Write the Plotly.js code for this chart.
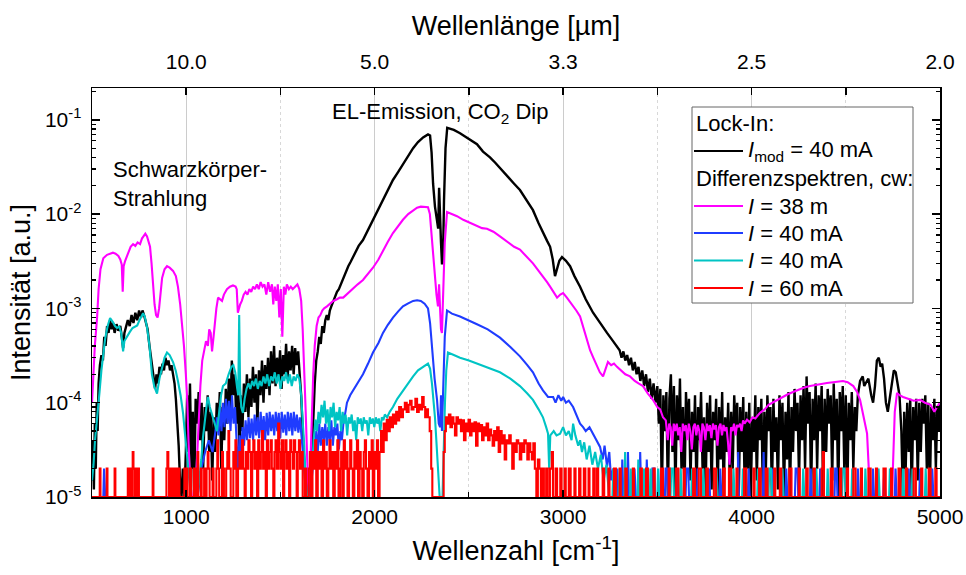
<!DOCTYPE html>
<html>
<head>
<meta charset="utf-8">
<script src="https://cdn.plot.ly/plotly-3.0.1.min.js"></script>
<style>html,body{margin:0;padding:0;background:#fff;}#chart{width:966px;height:575px;}</style>
</head>
<body>
<div id="chart"></div>
<script>
// Wavenumber [cm^-1], intensity [a.u.] pairs
const lockIn40 = [
[500,1.5e-5],[505,4e-5],[510,1.2e-5],[515,6e-5],[520,2e-5],[525,1e-4],[530,5e-5],[535,1.6e-4],[542,2.5e-4],[550,3.2e-4],[558,2.8e-4],[565,5e-4],[572,4e-4],[580,6.5e-4],[588,5.5e-4],[596,7.5e-4],[604,6e-4],[612,7e-4],[620,5.5e-4],[630,6.8e-4],[640,5.8e-4],[650,6.5e-4],[658,5e-4],[665,3.8e-4],[672,5.5e-4],[680,6.2e-4],[690,7.5e-4],[700,6.5e-4],[710,8.5e-4],[720,7e-4],[730,9e-4],[740,7.5e-4],[750,9.5e-4],[760,8e-4],[768,9.5e-4],[776,8.5e-4],[785,7e-4],[795,6e-4],[805,4e-4],[812,3e-4],[820,2.2e-4],[828,1.8e-4],[835,1.4e-4],[842,2e-4],[850,1.6e-4],[858,2.4e-4],[866,2e-4],[874,2.6e-4],[882,2.2e-4],[890,3e-4],[898,2.5e-4],[906,2.8e-4],[914,2.2e-4],[922,2.5e-4],[930,2e-4],[938,1.6e-4],[945,1.1e-4],[952,7e-5],[960,3.5e-5],[967,1.5e-5],[975,1e-5],[982,2e-5],[990,1e-5],[998,3e-5],[1005,1.2e-4],[1012,3e-5],[1020,1.6e-4],[1028,2e-5],[1035,8e-5],[1042,1e-5],[1050,1.1e-4],[1058,6e-5],[1066,1.3e-4],[1074,4e-5],[1082,1e-4],[1090,2e-5],[1098,9e-5],[1106,5e-5],[1114,1.2e-4],[1122,3e-5],[1130,8e-5],[1138,1.5e-5],[1146,7e-5],[1154,3e-5],[1162,1e-4],[1170,5e-5],[1178,1.3e-4],[1186,2e-5],[1194,9e-5],[1202,4e-5],[1210,1.4e-4],[1218,6e-5],[1226,1.8e-4],[1234,8e-5],[1242,2.8e-4],[1250,1.2e-4],[1258,2e-4],[1266,6e-5],[1274,1.5e-4],[1282,3e-5],[1290,1.2e-4],[1298,5e-5],[1306,1.6e-4],[1314,8e-5],[1322,2e-4],[1330,7e-5],[1338,1.8e-4],[1346,9e-5],[1354,2.4e-4],[1362,1e-4],[1370,2e-4],[1378,6e-5],[1386,2.2e-4],[1394,1.2e-4],[1402,2.8e-4],[1410,1e-4],[1418,2.5e-4],[1426,1.4e-4],[1434,3e-4],[1442,1.2e-4],[1450,3.5e-4],[1458,1.6e-4],[1466,4e-4],[1474,1.5e-4],[1482,3e-4],[1490,1.8e-4],[1498,3.6e-4],[1506,1.4e-4],[1514,3.2e-4],[1522,2e-4],[1530,4.2e-4],[1538,1.8e-4],[1546,3.5e-4],[1554,2.2e-4],[1562,4e-4],[1570,2e-4],[1578,3.8e-4],[1586,2.5e-4],[1594,3.5e-4],[1602,2e-4],[1610,1.2e-4],[1618,5e-5],[1626,2.5e-5],[1634,1.2e-5],[1642,1e-5],[1650,1.5e-5],[1658,1e-5],[1666,3e-5],[1674,8e-5],[1682,1.6e-4],[1690,2.8e-4],[1698,3.5e-4],[1706,5e-4],[1714,4.2e-4],[1722,6.5e-4],[1730,5.5e-4],[1738,7.5e-4],[1746,8.5e-4],[1754,7.5e-4],[1762,9.5e-4],[1770,1.05e-3],[1780,1.2e-3],[1790,1.3e-3],[1800,1.5e-3],[1810,1.6e-3],[1820,1.8e-3],[1833,2e-3],[1845,2.4e-3],[1860,2.8e-3],[1872,3.1e-3],[1885,3.5e-3],[1900,4e-3],[1915,4.6e-3],[1938,5.3e-3],[1960,6.5e-3],[1991,8.7e-3],[2020,1.1e-2],[2044,1.4e-2],[2070,1.8e-2],[2097,2.3e-2],[2125,2.8e-2],[2150,3.4e-2],[2178,4.2e-2],[2204,5e-2],[2230,5.8e-2],[2257,6.5e-2],[2283,7e-2],[2294,6.8e-2],[2302,4.5e-2],[2310,2.1e-2],[2320,1.2e-2],[2331,8.7e-3],[2337,7e-3],[2342,1.9e-2],[2347,8e-3],[2352,5e-3],[2357,3e-3],[2362,3e-3],[2368,1.4e-2],[2376,5e-2],[2385,8.2e-2],[2400,8e-2],[2420,7.8e-2],[2453,7.2e-2],[2480,6.6e-2],[2510,6e-2],[2543,5.5e-2],[2575,4.6e-2],[2612,4e-2],[2640,3.5e-2],[2665,3.1e-2],[2700,2.6e-2],[2740,2.1e-2],[2771,1.8e-2],[2805,1.4e-2],[2840,1.1e-2],[2870,8e-3],[2893,6.3e-3],[2915,5.2e-3],[2931,4.5e-3],[2945,3.3e-3],[2957,2.2e-3],[2968,2.6e-3],[2980,3.2e-3],[2994,3.5e-3],[3015,3.2e-3],[3037,2.8e-3],[3060,2.2e-3],[3090,1.7e-3],[3120,1.25e-3],[3159,9e-4],[3195,7e-4],[3233,5.5e-4],[3265,4.5e-4],[3290,3.9e-4],[3300,3.6e-4],[3310,3e-4],[3320,3.5e-4],[3330,2.8e-4],[3340,3.2e-4],[3350,2.5e-4],[3360,3e-4],[3370,2.2e-4],[3380,2.7e-4],[3390,2e-4],[3400,2.4e-4],[3410,1.7e-4],[3420,2.2e-4],[3430,1.5e-4],[3440,2e-4],[3450,1.3e-4],[3460,1.8e-4],[3470,1.1e-4],[3480,1.6e-4],[3490,1e-4],[3500,1.5e-4],[3508,6e-5],[3516,1.4e-4],[3524,1e-5],[3532,1.2e-4],[3540,5e-5],[3548,1.3e-4],[3556,1e-5],[3564,1.1e-4],[3572,2e-4],[3580,3e-5],[3588,1.5e-4],[3596,1e-5],[3604,1.2e-4],[3612,4e-5],[3620,1.8e-4],[3628,2e-5],[3636,9e-5],[3644,1e-5],[3652,1.3e-4],[3660,5e-5],[3668,1.1e-4],[3676,1.5e-5],[3684,8e-5],[3692,3e-5],[3700,1.2e-4],[3708,1e-5],[3716,9e-5],[3724,4e-5],[3732,1.3e-4],[3740,2e-5],[3748,7e-5],[3756,1e-5],[3764,1e-4],[3772,3e-5],[3780,1.2e-4],[3788,1.2e-5],[3796,8e-5],[3804,4e-5],[3812,1.1e-4],[3820,1e-5],[3828,9e-5],[3836,2.5e-5],[3844,1.3e-4],[3852,1e-5],[3860,7e-5],[3868,3e-5],[3876,1e-4],[3884,1.5e-5],[3892,8e-5],[3900,2e-5],[3908,1.2e-4],[3916,5e-5],[3924,1e-4],[3932,1e-5],[3940,9e-5],[3948,3e-5],[3956,1.15e-4],[3964,1e-5],[3972,8e-5],[3980,2e-5],[3988,1e-4],[3996,1e-5],[4004,7e-5],[4012,3e-5],[4020,1.2e-4],[4028,1.5e-5],[4036,9e-5],[4044,4e-5],[4052,1.1e-4],[4060,1e-5],[4068,8e-5],[4076,2e-5],[4084,1.2e-4],[4092,5e-5],[4100,9e-5],[4108,1e-5],[4116,1.1e-4],[4124,3e-5],[4132,7e-5],[4140,1.2e-5],[4148,1.2e-4],[4156,4e-5],[4164,1e-4],[4172,1e-5],[4180,8e-5],[4188,2.5e-5],[4196,1.3e-4],[4204,1e-5],[4212,9e-5],[4220,3e-5],[4228,1.4e-4],[4236,5e-5],[4244,1e-4],[4252,1.5e-5],[4260,1.2e-4],[4268,4e-5],[4276,1.5e-4],[4284,2e-5],[4292,1.9e-4],[4300,6e-5],[4308,1.3e-4],[4316,1e-5],[4324,1.1e-4],[4332,4e-5],[4340,1.6e-4],[4348,2e-5],[4356,1.2e-4],[4364,5e-5],[4372,1.5e-4],[4380,1e-5],[4388,1.1e-4],[4396,3e-5],[4404,1.4e-4],[4412,6e-5],[4420,1.2e-4],[4428,1.5e-5],[4436,1.6e-4],[4444,4e-5],[4452,1.1e-4],[4460,1e-5],[4468,1.3e-4],[4476,5e-5],[4484,1.5e-4],[4492,2e-5],[4500,1.2e-4],[4508,1e-5],[4516,1e-4],[4524,4e-5],[4532,1.3e-4],[4540,2e-5],[4548,9e-5],[4556,5e-5],[4564,1.2e-4],[4576,1.7e-4],[4590,1.9e-4],[4598,1.5e-4],[4605,1.6e-4],[4620,1.8e-4],[4635,1.2e-4],[4645,1e-4],[4655,1.5e-4],[4665,2.8e-4],[4675,3e-4],[4685,2.4e-4],[4693,2.6e-4],[4703,1.8e-4],[4713,1e-4],[4723,8e-5],[4733,1.1e-4],[4745,1.6e-4],[4755,2.2e-4],[4765,2.1e-4],[4775,1.5e-4],[4785,1.2e-4],[4795,5e-5],[4803,1e-5],[4810,8e-5],[4818,2e-5],[4826,1e-4],[4834,3e-5],[4842,1.1e-4],[4850,1e-5],[4858,9e-5],[4866,4e-5],[4874,1.1e-4],[4882,1.5e-5],[4890,1e-4],[4898,3e-5],[4906,1.1e-4],[4914,6e-5],[4922,1.2e-4],[4930,2e-5],[4938,1e-4],[4946,1e-5],[4954,9e-5],[4962,4e-5],[4970,1.1e-4],[4978,2e-5],[4986,9e-5],[4994,5e-5],[5000,1e-4]
];

const diffCw38 = [
[500,1e-4],[505,1.6e-4],[515,4e-4],[527,8e-4],[535,1.6e-3],[545,2.6e-3],[560,3.4e-3],[580,3.7e-3],[596,3.8e-3],[611,3.9e-3],[625,3.8e-3],[640,3.6e-3],[650,3.3e-3],[658,2.9e-3],[663,1.5e-3],[668,2.8e-3],[676,3.2e-3],[690,3.8e-3],[705,4.5e-3],[718,4.8e-3],[730,4.6e-3],[742,5e-3],[755,4.8e-3],[765,5.5e-3],[775,6e-3],[783,6.2e-3],[792,5.8e-3],[800,5.2e-3],[808,4.5e-3],[816,3e-3],[824,1.6e-3],[832,1.1e-3],[840,8.5e-4],[848,8e-4],[856,1e-3],[864,1.6e-3],[872,2.1e-3],[885,2.6e-3],[898,2.8e-3],[912,2.7e-3],[930,2.5e-3],[945,2.2e-3],[956,1.7e-3],[968,1.1e-3],[978,7e-4],[988,4e-4],[998,2e-4],[1006,1e-4],[1012,4e-5],[1020,1.5e-5],[1030,1e-5],[1045,1e-5],[1055,2e-5],[1062,4e-5],[1068,8e-5],[1075,1.5e-4],[1085,2.8e-4],[1095,3.5e-4],[1105,4.5e-4],[1115,4e-4],[1122,6e-4],[1130,5.5e-4],[1137,3.5e-4],[1145,5e-4],[1153,7.5e-4],[1160,1e-3],[1169,1.3e-3],[1180,1.25e-3],[1190,1.2e-3],[1200,1.4e-3],[1216,1.6e-3],[1232,1.7e-3],[1248,1.75e-3],[1262,1.7e-3],[1268,1.6e-3],[1274,9e-4],[1280,1e-3],[1286,1.1e-3],[1295,1.2e-3],[1305,1.4e-3],[1315,1.5e-3],[1325,1.4e-3],[1335,1.6e-3],[1345,1.5e-3],[1355,1.7e-3],[1365,1.6e-3],[1375,1.8e-3],[1385,1.6e-3],[1395,1.9e-3],[1405,1.7e-3],[1415,1.8e-3],[1425,1.4e-3],[1435,1.9e-3],[1445,1.5e-3],[1455,1.8e-3],[1462,1.1e-3],[1470,1.7e-3],[1478,1.2e-3],[1486,1.8e-3],[1494,8e-4],[1502,1.6e-3],[1510,5e-4],[1518,1.7e-3],[1526,1.4e-3],[1534,1.8e-3],[1545,1.6e-3],[1555,1.7e-3],[1565,1.6e-3],[1578,1.7e-3],[1590,1.8e-3],[1600,1.6e-3],[1610,1.2e-3],[1618,6e-4],[1626,2.5e-4],[1634,8e-5],[1642,2.5e-5],[1650,1e-5],[1658,2e-5],[1666,8e-5],[1674,2e-4],[1682,4e-4],[1692,6.5e-4],[1702,8e-4],[1712,8.5e-4],[1722,9.5e-4],[1732,1e-3],[1747,1.05e-3],[1760,1.1e-3],[1780,1.2e-3],[1800,1.25e-3],[1815,1.3e-3],[1833,1.3e-3],[1850,1.4e-3],[1870,1.5e-3],[1885,1.6e-3],[1910,1.8e-3],[1938,2e-3],[1965,2.3e-3],[1991,2.7e-3],[2020,3.3e-3],[2044,4.1e-3],[2070,5.1e-3],[2097,6.3e-3],[2125,7.5e-3],[2150,8.7e-3],[2178,1e-2],[2204,1.1e-2],[2225,1.17e-2],[2245,1.2e-2],[2265,1.18e-2],[2283,1.18e-2],[2293,1e-2],[2304,5.3e-3],[2312,3e-3],[2320,1.9e-3],[2328,1.4e-3],[2336,1.05e-3],[2342,1.8e-3],[2347,1e-3],[2352,6e-4],[2357,5.5e-4],[2364,1.5e-3],[2372,5e-3],[2384,1.05e-2],[2400,1.02e-2],[2437,9.5e-3],[2470,8.7e-3],[2510,8e-3],[2543,7.5e-3],[2570,7.1e-3],[2596,7e-3],[2630,6.5e-3],[2665,5.8e-3],[2700,5.2e-3],[2740,4.5e-3],[2771,4.2e-3],[2805,3.6e-3],[2840,3e-3],[2870,2.5e-3],[2893,2.2e-3],[2915,1.9e-3],[2931,1.7e-3],[2950,1.5e-3],[2968,1.3e-3],[2985,1.4e-3],[3000,1.45e-3],[3020,1.3e-3],[3040,1.15e-3],[3053,1.05e-3],[3070,9.5e-4],[3090,8.2e-4],[3105,6.5e-4],[3120,5e-4],[3143,3.6e-4],[3160,3e-4],[3180,2.4e-4],[3195,2.1e-4],[3212,1.9e-4],[3225,2.3e-4],[3238,2.7e-4],[3255,2.5e-4],[3270,2.6e-4],[3286,2.4e-4],[3310,2.2e-4],[3330,2e-4],[3355,1.9e-4],[3380,1.7e-4],[3400,1.6e-4],[3424,1.5e-4],[3450,1.25e-4],[3477,1.07e-4],[3500,9e-5],[3515,8.5e-5],[3530,7e-5],[3545,6.5e-5],[3555,4e-5],[3563,6e-5],[3571,5.5e-5],[3579,3.5e-5],[3587,6e-5],[3595,5e-5],[3603,6e-5],[3611,4.5e-5],[3619,5.5e-5],[3627,3e-5],[3635,6e-5],[3643,5e-5],[3651,5.8e-5],[3659,4e-5],[3667,6e-5],[3675,5e-5],[3683,3.2e-5],[3691,5.5e-5],[3699,6e-5],[3707,4.5e-5],[3715,5.8e-5],[3723,5e-5],[3731,3e-5],[3739,6e-5],[3747,5.5e-5],[3755,4e-5],[3763,6e-5],[3771,5e-5],[3779,5.8e-5],[3787,4.2e-5],[3795,6e-5],[3803,5.2e-5],[3811,5.8e-5],[3819,3.5e-5],[3827,5.5e-5],[3835,6e-5],[3843,4.5e-5],[3851,5.8e-5],[3859,5e-5],[3867,5.5e-5],[3875,3.8e-5],[3883,2.2e-5],[3891,5.5e-5],[3899,5e-5],[3907,6e-5],[3915,4.5e-5],[3923,5.8e-5],[3931,5.5e-5],[3939,6e-5],[3947,5e-5],[3955,6.5e-5],[3963,6e-5],[3976,6.6e-5],[3990,6.2e-5],[4005,7e-5],[4020,6.8e-5],[4045,7.8e-5],[4070,8.5e-5],[4090,9.5e-5],[4110,1e-4],[4135,1.07e-4],[4160,1.15e-4],[4190,1.22e-4],[4220,1.3e-4],[4250,1.38e-4],[4280,1.45e-4],[4310,1.5e-4],[4340,1.55e-4],[4370,1.58e-4],[4400,1.62e-4],[4430,1.65e-4],[4460,1.68e-4],[4485,1.7e-4],[4510,1.65e-4],[4540,1.5e-4],[4560,1.3e-4],[4576,1.07e-4],[4595,7e-5],[4613,4.7e-5],[4622,2e-5],[4630,1e-5],[4660,1e-5],[4664,2e-5],[4670,1e-5],[4700,1e-5],[4704,2e-5],[4710,1e-5],[4745,1e-5],[4752,3e-5],[4760,8e-5],[4772,1.27e-4],[4785,1.2e-4],[4804,1.15e-4],[4830,1.1e-4],[4860,1.05e-4],[4894,1.07e-4],[4920,1e-4],[4950,9.5e-5],[4970,8e-5],[4984,9e-5],[5000,1e-4]
];

const diffCw40a = [
[500,1e-5],[560,1e-5],[564,2e-5],[570,1e-5],[700,1e-5],[704,2e-5],[710,1e-5],[1060,1e-5],[1080,2e-5],[1100,3e-5],[1120,4e-5],[1140,3e-5],[1155,5e-5],[1163,7e-5],[1171,4.5e-5],[1179,9e-5],[1187,5e-5],[1195,1e-4],[1203,5.5e-5],[1211,1.1e-4],[1219,6e-5],[1227,1.05e-4],[1235,5e-5],[1243,1.2e-4],[1251,6e-5],[1259,9e-5],[1267,4e-5],[1275,2e-5],[1283,4.5e-5],[1291,3e-5],[1299,5.5e-5],[1307,3.5e-5],[1315,6.5e-5],[1323,4e-5],[1331,7e-5],[1339,4.2e-5],[1347,6.8e-5],[1355,4e-5],[1363,7.5e-5],[1371,4.5e-5],[1379,7e-5],[1387,4.2e-5],[1395,8e-5],[1403,4.5e-5],[1411,7.2e-5],[1419,4e-5],[1427,7.8e-5],[1435,4.5e-5],[1443,8e-5],[1451,5e-5],[1459,7.5e-5],[1467,4.5e-5],[1475,8e-5],[1483,5e-5],[1491,7.8e-5],[1499,4.2e-5],[1507,8e-5],[1515,4.8e-5],[1523,7.5e-5],[1531,4.5e-5],[1539,8e-5],[1547,5e-5],[1555,7.8e-5],[1563,4.5e-5],[1571,8e-5],[1579,5e-5],[1587,7.5e-5],[1595,4.8e-5],[1603,7e-5],[1611,4e-5],[1619,3e-5],[1627,2e-5],[1635,1e-5],[1650,1e-5],[1665,1.5e-5],[1680,3e-5],[1690,5e-5],[1698,3e-5],[1706,6e-5],[1714,3.5e-5],[1722,5.5e-5],[1730,4e-5],[1738,6e-5],[1746,3.5e-5],[1754,5.5e-5],[1762,4e-5],[1770,6.5e-5],[1778,3.5e-5],[1786,5.5e-5],[1794,4.5e-5],[1802,6e-5],[1810,3.2e-5],[1818,5e-5],[1826,4e-5],[1834,6e-5],[1845,8e-5],[1853,1e-4],[1870,1.2e-4],[1885,1.35e-4],[1910,1.65e-4],[1938,2e-4],[1965,2.6e-4],[1991,3.4e-4],[2020,4.3e-4],[2044,5.5e-4],[2070,6.7e-4],[2097,8e-4],[2125,9.3e-4],[2150,1.05e-3],[2178,1.13e-3],[2204,1.2e-3],[2225,1.22e-3],[2245,1.2e-3],[2265,1.12e-3],[2283,1e-3],[2294,7e-4],[2304,3.6e-4],[2318,1.8e-4],[2331,1.07e-4],[2340,6e-5],[2347,5.5e-5],[2352,1.2e-4],[2357,5e-5],[2364,2e-4],[2372,5e-4],[2384,9.5e-4],[2410,8.8e-4],[2453,8.2e-4],[2500,7.5e-4],[2543,6.8e-4],[2600,6e-4],[2665,4.9e-4],[2720,3.9e-4],[2771,3.1e-4],[2810,2.5e-4],[2840,2.1e-4],[2870,1.6e-4],[2893,1.35e-4],[2920,1.15e-4],[2947,1.15e-4],[2960,1e-4],[2975,1.2e-4],[2990,1.05e-4],[3000,1.15e-4],[3015,1e-4],[3030,1.05e-4],[3053,9e-5],[3070,7.5e-5],[3090,6e-5],[3106,5.5e-5],[3120,5e-5],[3140,5.5e-5],[3159,4.7e-5],[3175,4e-5],[3196,3.4e-5],[3210,2.5e-5],[3220,3.5e-5],[3233,2.1e-5],[3245,3e-5],[3255,1.5e-5],[3265,2e-5],[3275,1e-5],[3285,2e-5],[3292,1e-5],[3310,1e-5],[3314,2.5e-5],[3320,1e-5],[3340,1e-5],[3344,3e-5],[3350,1e-5],[3375,1e-5],[3379,2e-5],[3386,1e-5],[3405,1e-5],[3409,3e-5],[3415,1e-5],[3440,1e-5],[3444,2.5e-5],[3450,1e-5],[3470,1e-5],[3474,2e-5],[3484,2e-5],[3488,1e-5],[3515,1e-5],[3519,2e-5],[3524,1e-5],[3540,1e-5],[3544,2e-5],[3552,2e-5],[3556,1e-5],[3600,1e-5],[3604,2e-5],[3608,1e-5],[3650,1e-5],[3654,2e-5],[3664,2e-5],[3668,1e-5],[3710,1e-5],[3714,2e-5],[3718,1e-5],[3770,1e-5],[3774,2e-5],[3780,1e-5],[3830,1e-5],[3834,2e-5],[3840,1e-5],[3880,1e-5],[3884,2e-5],[3890,1e-5],[3925,1e-5],[3929,3e-5],[3933,1e-5],[3980,1e-5],[3984,2e-5],[3990,1e-5],[4060,1e-5],[4064,3e-5],[4068,1e-5],[4110,1e-5],[4114,2e-5],[4120,1e-5],[4180,1e-5],[4184,2e-5],[4190,1e-5],[4230,1e-5],[4234,2e-5],[4244,2e-5],[4248,1e-5],[4310,1e-5],[4314,2e-5],[4320,1e-5],[4360,1e-5],[4364,2e-5],[4370,1e-5],[4440,1e-5],[4444,2e-5],[4452,2e-5],[4456,1e-5],[4500,1e-5],[4504,2e-5],[4510,1e-5],[4560,1e-5],[4564,2e-5],[4570,1e-5],[4640,1e-5],[4644,2e-5],[4650,1e-5],[4700,1e-5],[4704,2e-5],[4710,1e-5],[4760,1e-5],[4764,2e-5],[4770,1e-5],[4830,1e-5],[4834,2e-5],[4840,1e-5],[4890,1e-5],[4894,2e-5],[4900,1e-5],[4955,1e-5],[4959,2e-5],[4965,1e-5],[5000,1e-5]
];

const diffCw40b = [
[500,1.5e-5],[508,2.2e-5],[516,4e-5],[527,6.4e-5],[540,1.3e-4],[550,2.2e-4],[558,3.2e-4],[570,4.8e-4],[583,6.5e-4],[596,7.9e-4],[610,7.2e-4],[622,6.5e-4],[633,6.2e-4],[645,6.4e-4],[655,5.5e-4],[660,4.5e-4],[665,3.5e-4],[672,4.5e-4],[686,5.1e-4],[700,5.6e-4],[715,6.2e-4],[728,6.4e-4],[740,6.6e-4],[752,7.5e-4],[762,8.2e-4],[771,8.9e-4],[780,8.2e-4],[792,6.3e-4],[805,4e-4],[818,2e-4],[830,1.5e-4],[845,1.25e-4],[858,1.8e-4],[871,2.4e-4],[885,3e-4],[898,3.4e-4],[912,3.2e-4],[930,2.7e-4],[944,2.2e-4],[956,1.7e-4],[970,1.2e-4],[983,7.8e-5],[994,4.5e-5],[1004,2.9e-5],[1015,1.5e-5],[1025,1e-5],[1060,1e-5],[1070,1.5e-5],[1080,2.5e-5],[1089,4.3e-5],[1100,7e-5],[1110,1e-4],[1116,1.15e-4],[1125,9e-5],[1137,7.5e-5],[1150,6e-5],[1163,5e-5],[1175,8e-5],[1185,1.2e-4],[1195,1.5e-4],[1210,1.6e-4],[1225,2e-4],[1240,2.4e-4],[1250,2.5e-4],[1260,2.1e-4],[1269,1.5e-4],[1276,1.2e-4],[1281,8.5e-4],[1286,1.5e-4],[1292,9e-5],[1301,7.8e-5],[1310,1.1e-4],[1320,1.4e-4],[1330,1.6e-4],[1340,1.4e-4],[1350,1.7e-4],[1360,1.5e-4],[1370,1.8e-4],[1380,1.4e-4],[1390,1.7e-4],[1400,1.5e-4],[1410,1.9e-4],[1420,1.6e-4],[1430,2e-4],[1440,1.5e-4],[1450,1.9e-4],[1460,1.7e-4],[1470,2.1e-4],[1480,1.6e-4],[1490,2e-4],[1500,1.4e-4],[1510,1.9e-4],[1520,1.7e-4],[1530,2.1e-4],[1540,1.6e-4],[1550,2e-4],[1560,1.5e-4],[1570,1.9e-4],[1580,1.7e-4],[1590,2e-4],[1600,1.8e-4],[1610,1.2e-4],[1618,7e-5],[1626,3.5e-5],[1634,1.5e-5],[1642,1e-5],[1660,1e-5],[1668,2e-5],[1676,4e-5],[1686,6.6e-5],[1694,5e-5],[1702,8e-5],[1710,6e-5],[1718,9.5e-5],[1726,7e-5],[1734,1.05e-4],[1742,6e-5],[1750,8.5e-5],[1758,5e-5],[1766,9e-5],[1774,7e-5],[1782,1e-4],[1790,5.5e-5],[1798,8e-5],[1806,6.5e-5],[1814,9e-5],[1822,5e-5],[1830,8e-5],[1838,6e-5],[1846,7.5e-5],[1854,4.5e-5],[1862,7e-5],[1870,6e-5],[1878,7.5e-5],[1886,5e-5],[1894,6.5e-5],[1902,4e-5],[1910,7e-5],[1918,6e-5],[1926,6.8e-5],[1934,5e-5],[1942,7e-5],[1950,6e-5],[1958,6.5e-5],[1966,4.5e-5],[1974,7e-5],[1982,6e-5],[1990,6.8e-5],[1998,5.5e-5],[2006,7e-5],[2014,6e-5],[2022,6.8e-5],[2030,5e-5],[2038,7e-5],[2046,6.5e-5],[2054,7.5e-5],[2066,7e-5],[2080,8e-5],[2097,9e-5],[2120,1.1e-4],[2150,1.35e-4],[2178,1.6e-4],[2204,1.9e-4],[2230,2.2e-4],[2257,2.4e-4],[2283,2.6e-4],[2294,2.3e-4],[2304,1.6e-4],[2320,7e-5],[2336,2e-5],[2345,1e-5],[2360,1e-5],[2368,5e-5],[2373,1e-4],[2380,2.2e-4],[2389,3.4e-4],[2420,3.2e-4],[2453,3e-4],[2500,2.8e-4],[2543,2.6e-4],[2600,2.35e-4],[2665,2.1e-4],[2720,1.8e-4],[2771,1.5e-4],[2810,1.25e-4],[2840,1.07e-4],[2870,8.5e-5],[2893,7e-5],[2910,5.5e-5],[2920,4.7e-5],[2926,2e-5],[2932,4.5e-5],[2950,5e-5],[2965,4.5e-5],[2984,4.7e-5],[3000,5.5e-5],[3015,4.5e-5],[3030,5e-5],[3045,4e-5],[3053,6e-5],[3065,4.5e-5],[3080,3.5e-5],[3090,4e-5],[3100,3e-5],[3112,3.8e-5],[3125,2.5e-5],[3140,3.5e-5],[3155,2.2e-5],[3170,3e-5],[3185,2e-5],[3200,2.8e-5],[3215,1.5e-5],[3230,2.2e-5],[3245,1e-5],[3262,1e-5],[3266,2e-5],[3272,1e-5],[3295,1e-5],[3299,2e-5],[3306,1e-5],[3325,1e-5],[3329,3e-5],[3334,1e-5],[3355,1e-5],[3359,2e-5],[3366,1e-5],[3395,1e-5],[3399,2.5e-5],[3405,1e-5],[3425,1e-5],[3429,2e-5],[3436,1e-5],[3460,1e-5],[3464,2e-5],[3470,1e-5],[3500,1e-5],[3504,2e-5],[3510,1e-5],[3570,1e-5],[3574,2e-5],[3584,2e-5],[3588,1e-5],[3620,1e-5],[3624,2e-5],[3630,1e-5],[3680,1e-5],[3684,2e-5],[3690,1e-5],[3740,1e-5],[3744,2e-5],[3750,1e-5],[3810,1e-5],[3814,2e-5],[3820,1e-5],[3900,1e-5],[3904,2e-5],[3910,1e-5],[3950,1e-5],[3954,2e-5],[3960,1e-5],[4030,1e-5],[4034,2e-5],[4040,1e-5],[4090,1e-5],[4094,2e-5],[4104,2e-5],[4108,1e-5],[4160,1e-5],[4164,2e-5],[4170,1e-5],[4270,1e-5],[4274,2e-5],[4280,1e-5],[4340,1e-5],[4344,2e-5],[4350,1e-5],[4400,1e-5],[4404,2e-5],[4410,1e-5],[4480,1e-5],[4484,2e-5],[4494,2e-5],[4498,1e-5],[4530,1e-5],[4534,2e-5],[4540,1e-5],[4600,1e-5],[4604,2e-5],[4610,1e-5],[4670,1e-5],[4674,2e-5],[4680,1e-5],[4730,1e-5],[4734,2e-5],[4740,1e-5],[4800,1e-5],[4804,2e-5],[4810,1e-5],[4850,1e-5],[4854,2e-5],[4860,1e-5],[4920,1e-5],[4924,2e-5],[4930,1e-5],[5000,1e-5]
];

// step-wise (hv) samples: each value holds until the next wavenumber
const diffCw60 = [
[500,1e-5],[541,2e-5],[545,1e-5],[578,2e-5],[582,1e-5],[620,2e-5],[624,1e-5],[690,2e-5],[694,1e-5],[700,2e-5],[705,1e-5],[712,2e-5],[716,3e-5],[720,2e-5],[724,1e-5],[732,2e-5],[736,1e-5],[745,2e-5],[749,1e-5],[822,2e-5],[826,1e-5],[895,2e-5],[900,3e-5],[905,2e-5],[909,1e-5],[918,2e-5],[922,1e-5],[930,2e-5],[934,1e-5],[945,2e-5],[950,1e-5],[960,2e-5],[964,1e-5],[990,2e-5],[994,1e-5],[1003,2e-5],[1007,1e-5],[1020,2e-5],[1025,1e-5],[1040,2e-5],[1044,1e-5],[1055,2e-5],[1060,3e-5],[1064,1e-5],[1078,2e-5],[1082,1e-5],[1095,2e-5],[1099,1e-5],[1108,2e-5],[1114,3e-5],[1118,2e-5],[1124,1e-5],[1140,2e-5],[1145,1e-5],[1160,2e-5],[1165,4e-5],[1169,2e-5],[1175,1e-5],[1190,3e-5],[1195,2e-5],[1200,1e-5],[1212,2e-5],[1218,3e-5],[1224,5e-5],[1228,2e-5],[1236,1e-5],[1250,3e-5],[1255,2e-5],[1261,4e-5],[1266,1e-5],[1275,2e-5],[1282,3e-5],[1288,2e-5],[1296,4e-5],[1302,2e-5],[1310,1e-5],[1316,3e-5],[1322,2e-5],[1330,4e-5],[1336,3e-5],[1344,1e-5],[1350,3e-5],[1356,4e-5],[1362,2e-5],[1370,3e-5],[1376,1e-5],[1382,4e-5],[1388,2e-5],[1396,3e-5],[1402,5e-5],[1408,2e-5],[1416,3e-5],[1422,1e-5],[1428,4e-5],[1434,2e-5],[1442,3e-5],[1448,4e-5],[1454,2e-5],[1462,1e-5],[1468,3e-5],[1474,4e-5],[1480,2e-5],[1488,6e-5],[1494,3e-5],[1500,2e-5],[1508,4e-5],[1514,1e-5],[1520,3e-5],[1526,4e-5],[1532,2e-5],[1540,3e-5],[1546,1e-5],[1552,4e-5],[1558,3e-5],[1566,2e-5],[1572,4e-5],[1578,3e-5],[1586,1e-5],[1592,3e-5],[1598,4e-5],[1604,2e-5],[1612,3e-5],[1618,1e-5],[1630,2e-5],[1636,1e-5],[1650,2e-5],[1656,3e-5],[1662,1e-5],[1670,3e-5],[1676,2e-5],[1684,4e-5],[1690,1e-5],[1698,3e-5],[1704,2e-5],[1712,3e-5],[1718,1e-5],[1726,4e-5],[1732,2e-5],[1740,3e-5],[1746,1e-5],[1754,2e-5],[1760,4e-5],[1766,2e-5],[1774,3e-5],[1780,1e-5],[1788,3e-5],[1794,2e-5],[1802,4e-5],[1808,1e-5],[1816,2e-5],[1822,3e-5],[1828,1e-5],[1836,4e-5],[1842,2e-5],[1850,3e-5],[1856,1e-5],[1864,2e-5],[1870,4e-5],[1876,2e-5],[1884,1e-5],[1892,3e-5],[1898,2e-5],[1906,4e-5],[1912,1e-5],[1920,3e-5],[1926,2e-5],[1934,1e-5],[1942,3e-5],[1948,4e-5],[1954,2e-5],[1962,1e-5],[1970,3e-5],[1976,2e-5],[1984,4e-5],[1990,1e-5],[1998,3e-5],[2004,2e-5],[2012,4e-5],[2018,1e-5],[2026,3e-5],[2034,5e-5],[2040,3e-5],[2048,6e-5],[2056,4e-5],[2064,6.6e-5],[2072,5e-5],[2080,7e-5],[2088,5.5e-5],[2097,7.5e-5],[2106,6e-5],[2114,8e-5],[2122,6.5e-5],[2130,9e-5],[2140,7e-5],[2150,8.5e-5],[2160,1e-4],[2170,8e-5],[2180,9.5e-5],[2188,1.05e-4],[2196,8.5e-5],[2206,9e-5],[2216,1.1e-4],[2225,8e-5],[2234,9.5e-5],[2244,8.5e-5],[2252,1.15e-4],[2260,9e-5],[2268,7e-5],[2276,8.5e-5],[2283,7e-5],[2292,5e-5],[2300,2e-5],[2306,1e-5],[2366,3e-5],[2372,5e-5],[2378,7e-5],[2386,6e-5],[2394,7.5e-5],[2402,5.5e-5],[2410,7e-5],[2418,6e-5],[2426,4.5e-5],[2434,7e-5],[2442,6e-5],[2450,6.6e-5],[2458,5e-5],[2466,6.5e-5],[2474,4e-5],[2482,6e-5],[2490,5e-5],[2498,6.6e-5],[2506,4.5e-5],[2514,6e-5],[2522,5e-5],[2530,6.2e-5],[2538,3.5e-5],[2546,6e-5],[2554,5e-5],[2562,5.8e-5],[2570,4e-5],[2578,5.5e-5],[2586,4.5e-5],[2594,6e-5],[2602,4e-5],[2610,5.2e-5],[2618,4.5e-5],[2626,3.5e-5],[2634,5e-5],[2642,4e-5],[2650,5.5e-5],[2658,3e-5],[2666,5e-5],[2674,3.7e-5],[2682,4.5e-5],[2690,2.5e-5],[2698,4e-5],[2706,3.7e-5],[2714,4.5e-5],[2722,3.7e-5],[2730,2e-5],[2738,3.7e-5],[2746,3e-5],[2754,4e-5],[2762,3.7e-5],[2770,2.5e-5],[2778,3.7e-5],[2786,3e-5],[2794,4e-5],[2802,3.7e-5],[2810,2.5e-5],[2818,3.7e-5],[2826,3e-5],[2834,2.5e-5],[2842,3.7e-5],[2850,2e-5],[2858,1e-5],[2866,2.5e-5],[2874,2e-5],[2882,1e-5],[2890,2e-5],[2898,1e-5],[2910,2e-5],[2918,1e-5],[2930,2e-5],[2940,3e-5],[2946,1e-5],[2960,2e-5],[2968,1e-5],[2985,2e-5],[2992,1e-5],[3008,2e-5],[3014,1e-5],[3030,2e-5],[3040,1e-5],[3060,2e-5],[3066,1e-5],[3085,2e-5],[3092,1e-5],[3110,2e-5],[3118,1e-5],[3135,2e-5],[3140,1e-5],[3160,2e-5],[3168,1e-5],[3180,2e-5],[3186,1e-5],[3210,2e-5],[3218,1e-5],[3240,2e-5],[3246,1e-5],[3270,2e-5],[3280,1e-5],[3300,2e-5],[3306,1e-5],[3330,2e-5],[3338,1e-5],[3370,2e-5],[3376,1e-5],[3410,2e-5],[3418,1e-5],[3440,2e-5],[3450,1e-5],[3480,2e-5],[3486,1e-5],[3520,2e-5],[3530,1e-5],[3560,2e-5],[3566,1e-5],[3600,2e-5],[3612,1e-5],[3640,2e-5],[3646,1e-5],[3690,2e-5],[3700,1e-5],[3720,2e-5],[3732,1e-5],[3760,2e-5],[3768,1e-5],[3800,2e-5],[3812,1e-5],[3850,2e-5],[3858,1e-5],[3880,2e-5],[3892,1e-5],[3920,2e-5],[3926,1e-5],[3960,2e-5],[3972,1e-5],[4010,2e-5],[4016,1e-5],[4040,2e-5],[4048,1e-5],[4075,2e-5],[4085,1e-5],[4120,2e-5],[4126,1e-5],[4150,2e-5],[4158,1e-5],[4200,2e-5],[4212,1e-5],[4250,2e-5],[4256,1e-5],[4290,2e-5],[4298,1e-5],[4330,2e-5],[4336,1e-5],[4372,2e-5],[4378,3e-5],[4384,1e-5],[4420,2e-5],[4430,1e-5],[4470,2e-5],[4476,1e-5],[4505,2e-5],[4512,1e-5],[4540,2e-5],[4552,1e-5],[4580,2e-5],[4586,1e-5],[4620,2e-5],[4632,1e-5],[4660,2e-5],[4666,1e-5],[4700,2e-5],[4712,1e-5],[4740,2e-5],[4746,1e-5],[4780,2e-5],[4790,1e-5],[4820,2e-5],[4826,1e-5],[4860,2e-5],[4872,1e-5],[4900,2e-5],[4906,1e-5],[4940,2e-5],[4950,1e-5],[4975,2e-5],[4982,1e-5],[5000,1e-5]
];

const seriesNames = ['<i>I</i><sub>mod</sub> = 40 mA','<i>I</i> = 38 m','<i>I</i> = 40 mA','<i>I</i> = 40 mA','<i>I</i> = 60 mA'];
const seriesColors = ['#000000','#ff00ff','#1f3cff','#00c4c4','#ff0000'];
const legendHeaders = ['Lock-In:','Differenzspektren, cw:'];
const yTickVals = [1e-5,1e-4,1e-3,1e-2,1e-1];
const yTickText = ['10<sup>-5</sup>','10<sup>-4</sup>','10<sup>-3</sup>','10<sup>-2</sup>','10<sup>-1</sup>'];
const topTickVals = [1000,2000,3000,4000,5000];
const topTickText = ['10.0','5.0','3.3','2.5','2.0'];

const minorY = [];
yTickVals.forEach(d => { for (let k = 2; k <= 9; k++) minorY.push(d * k); });

const FONT = 'Arial, "Liberation Sans", Helvetica, sans-serif';
const seriesData = [lockIn40, diffCw38, diffCw40a, diffCw40b, diffCw60];
const traces = seriesData.map((data, i) => ({
  type: 'scatter', mode: 'lines', name: seriesNames[i], showlegend: false,
  x: data.map(p => p[0]), y: data.map(p => p[1]),
  line: {color: seriesColors[i], width: i === 0 ? 2.4 : 2.1, shape: i === 4 ? 'hv' : 'linear'},
  xaxis: 'x', yaxis: 'y', hoverinfo: 'skip'
}));
// carrier for the top (wavelength) axis
traces.push({type: 'scatter', mode: 'lines', x: [], y: [], xaxis: 'x2', yaxis: 'y', showlegend: false, hoverinfo: 'skip'});

// legend box (plot-area pixel geometry -> paper coordinates)
const PL = 92, PT = 88, PW = 848, PH = 409;
const px = v => (v - PL) / PW;
const py = v => 1 - (v - PT) / PH;
const legRows = [123, 151, 178, 206, 233, 260.5, 288];
const shapes = [{type: 'rect', xref: 'paper', yref: 'paper', x0: px(692), x1: px(913), y0: py(107), y1: py(303),
  line: {color: '#666', width: 1}, fillcolor: '#ffffff', layer: 'above'}];
const annotations = [];
const rowKinds = [['h', 0], ['s', 0], ['h', 1], ['s', 1], ['s', 2], ['s', 3], ['s', 4]];
rowKinds.forEach(([kind, idx], r) => {
  const yy = py(legRows[r]);
  if (kind === 'h') {
    annotations.push({xref: 'paper', yref: 'paper', x: px(694), y: yy, xanchor: 'left', yanchor: 'middle',
      showarrow: false, text: legendHeaders[idx], font: {size: 22, family: FONT, color: '#000'}});
  } else {
    shapes.push({type: 'line', xref: 'paper', yref: 'paper', x0: px(694), x1: px(743), y0: yy, y1: yy,
      line: {color: seriesColors[idx], width: 2.2}, layer: 'above'});
    annotations.push({xref: 'paper', yref: 'paper', x: px(746), y: yy, xanchor: 'left', yanchor: 'middle',
      showarrow: false, text: seriesNames[idx], font: {size: 22, family: FONT, color: '#000'}});
  }
});
annotations.push(
  {xref: 'paper', yref: 'paper', x: px(111), y: py(184), xanchor: 'left', yanchor: 'middle', align: 'left', showarrow: false,
   text: 'Schwarzkörper-<br>Strahlung', font: {size: 22, family: FONT, color: '#000'}},
  {xref: 'paper', yref: 'paper', x: px(440), y: py(113), xanchor: 'center', yanchor: 'middle', showarrow: false,
   text: 'EL-Emission, CO<sub>2</sub> Dip', font: {size: 22, family: FONT, color: '#000'}}
);

const layout = {
  width: 966, height: 575,
  margin: {l: PL, r: 966 - PL - PW, t: PT, b: 575 - PT - PH},
  paper_bgcolor: '#ffffff', plot_bgcolor: '#ffffff',
  font: {family: FONT, size: 21, color: '#000'},
  showlegend: false,
  xaxis: {
    range: [500, 5000], tick0: 0, dtick: 1000,
    showline: true, linecolor: '#000', linewidth: 1.5, mirror: false,
    ticks: 'inside', ticklen: 7, tickwidth: 1.5, tickcolor: '#000',
    showgrid: true, gridcolor: '#cccccc', gridwidth: 1,
    zeroline: false,
    minor: {dtick: 500, tick0: 0, ticks: 'inside', ticklen: 5, tickwidth: 1.2, tickcolor: '#000', showgrid: true, gridcolor: '#d8d8d8', griddash: 'dot', gridwidth: 1},
    tickfont: {size: 21, family: FONT},
    title: {text: 'Wellenzahl [cm<sup>-1</sup>]', font: {size: 27, family: FONT}, standoff: 14}
  },
  xaxis2: {
    overlaying: 'x', side: 'top', anchor: 'y',
    range: [500, 5000], tickmode: 'array', tickvals: topTickVals, ticktext: topTickText,
    showline: true, linecolor: '#000', linewidth: 1.5,
    ticks: 'inside', ticklen: 7, tickwidth: 1.5, tickcolor: '#000',
    ticklabelstandoff: 9,
    showgrid: false, zeroline: false,
    minor: {tickvals: [1500, 2500, 3500, 4500], ticks: 'inside', ticklen: 7, tickwidth: 1.5, tickcolor: '#000', showgrid: false},
    tickfont: {size: 21, family: FONT},
    title: {text: 'Wellenlänge [µm]', font: {size: 27, family: FONT}, standoff: 6}
  },
  yaxis: {
    type: 'log', range: [-5, -0.663],
    tickmode: 'array', tickvals: yTickVals, ticktext: yTickText,
    showline: true, linecolor: '#000', linewidth: 1.5, mirror: 'ticks',
    ticks: 'inside', ticklen: 8, tickwidth: 1.5, tickcolor: '#000',
    ticklabelstandoff: 5,
    showgrid: false, zeroline: false,
    minor: {tickvals: minorY, ticks: 'inside', ticklen: 4, tickwidth: 1.2, tickcolor: '#000', showgrid: false},
    tickfont: {size: 21, family: FONT},
    title: {text: 'Intensität [a.u.]', font: {size: 27, family: FONT}, standoff: 6}
  },
  shapes: shapes,
  annotations: annotations
};

Plotly.newPlot('chart', traces, layout, {displayModeBar: false, staticPlot: true});
</script>
</body>
</html>
